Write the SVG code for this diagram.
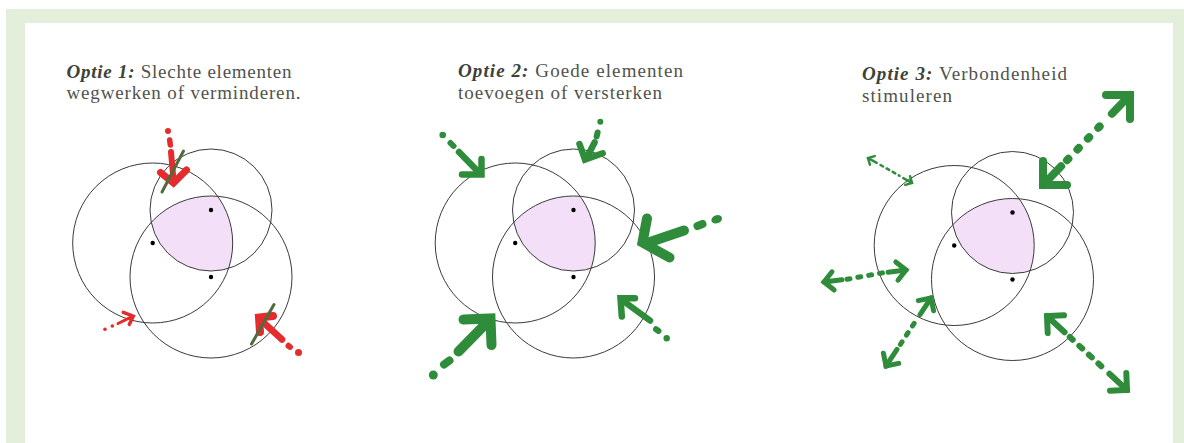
<svg xmlns="http://www.w3.org/2000/svg" width="1184" height="443" viewBox="0 0 1184 443">
<style>
.frame{fill:#e3efdb}
.bg{fill:#ffffff}
.c{fill:none;stroke:#3a3a3a;stroke-width:1}
.core{fill:#f3e0f8}
.dot{fill:#000000}
.t{font-family:"Liberation Serif",serif;font-size:19px;fill:#50534d}
.b{font-weight:bold;font-style:italic;fill:#3c4238}
.ar{stroke:#e52b2b;fill:none;stroke-linecap:round;stroke-linejoin:miter}
.ag{stroke:#2f8c3b;fill:none;stroke-linecap:round;stroke-linejoin:miter}
.fr{fill:#e52b2b}
.fg{fill:#2f8c3b}
.strike{stroke:#4e6c3e;stroke-width:3;stroke-linecap:round}
</style>
<defs>
<clipPath id="clipL"><circle cx="152.7" cy="243" r="80"/></clipPath>
<clipPath id="clipB"><circle cx="211" cy="277" r="81"/></clipPath>
</defs>
<rect class="frame" x="6" y="9" width="1178" height="434"/>
<rect class="bg" x="25" y="23" width="1148" height="420"/>

<g id="panel1">
<text class="t" x="66.5" y="77.5" textLength="225" lengthAdjust="spacing"><tspan class="b">Optie 1:</tspan> Slechte elementen</text>
<text class="t" x="66.5" y="99" textLength="234" lengthAdjust="spacing">wegwerken of verminderen.</text>
<g transform="translate(0,0)">
<g clip-path="url(#clipL)"><g clip-path="url(#clipB)"><circle class="core" cx="211" cy="210" r="61"/></g></g>
<circle class="c" cx="152.7" cy="243" r="80"/>
<circle class="c" cx="211" cy="210" r="61"/>
<circle class="c" cx="211" cy="277" r="81"/>
<circle class="dot" cx="211" cy="210" r="2.2"/>
<circle class="dot" cx="152.7" cy="243" r="2.2"/>
<circle class="dot" cx="211" cy="277" r="2.2"/>
</g>
</g>

<g id="panel2">
<text class="t" x="458" y="77" textLength="225" lengthAdjust="spacing"><tspan class="b">Optie 2:</tspan> Goede elementen</text>
<text class="t" x="458" y="98.5" textLength="204" lengthAdjust="spacing">toevoegen of versterken</text>
<g transform="translate(362.5,0)">
<g clip-path="url(#clipL)"><g clip-path="url(#clipB)"><circle class="core" cx="211" cy="210" r="61"/></g></g>
<circle class="c" cx="152.7" cy="243" r="80"/>
<circle class="c" cx="211" cy="210" r="61"/>
<circle class="c" cx="211" cy="277" r="81"/>
<circle class="dot" cx="211" cy="210" r="2.2"/>
<circle class="dot" cx="152.7" cy="243" r="2.2"/>
<circle class="dot" cx="211" cy="277" r="2.2"/>
</g>
</g>

<g id="panel3">
<text class="t" x="862" y="80" textLength="205" lengthAdjust="spacing"><tspan class="b">Optie 3:</tspan> Verbondenheid</text>
<text class="t" x="862" y="101.5" textLength="90" lengthAdjust="spacing">stimuleren</text>
<g transform="translate(801.5,2.5)">
<g clip-path="url(#clipL)"><g clip-path="url(#clipB)"><circle class="core" cx="211" cy="210" r="61"/></g></g>
<circle class="c" cx="152.7" cy="243" r="80"/>
<circle class="c" cx="211" cy="210" r="61"/>
<circle class="c" cx="211" cy="277" r="81"/>
<circle class="dot" cx="211" cy="210" r="2.2"/>
<circle class="dot" cx="152.7" cy="243" r="2.2"/>
<circle class="dot" cx="211" cy="277" r="2.2"/>
</g>
</g>

<g id="connectors">
<g id="arrows-panel1">
<circle class="fr" cx="168" cy="131" r="3"/>
<line class="ar" x1="169.7" y1="140" x2="170.3" y2="145" stroke-width="5.5"/>
<line class="ar" x1="171" y1="152" x2="173.5" y2="180" stroke-width="6"/>
<polyline class="ar" points="160.5,172.5 173.5,183 186.5,170" stroke-width="7"/>
<line class="strike" x1="183.5" y1="151" x2="162" y2="192"/>

<circle class="fr" cx="105" cy="329.3" r="1.8"/>
<circle class="fr" cx="112.3" cy="326" r="1.8"/>
<line class="ar" x1="118" y1="323.5" x2="131.5" y2="316.8" stroke-width="3"/>
<polyline class="ar" points="123.3,312.3 133.3,316.2 129.3,324.5" stroke-width="3.5"/>

<circle class="fr" cx="298.5" cy="352.5" r="3.5"/>
<line class="ar" x1="288.5" y1="345.8" x2="290" y2="347" stroke-width="6"/>
<line class="ar" x1="282" y1="339.5" x2="263" y2="322" stroke-width="6.5"/>
<polyline class="ar" points="273,316 259,317.5 260,332" stroke-width="8"/>
<line class="strike" x1="274" y1="304.5" x2="251.5" y2="344"/>
</g>

<g id="arrows-panel2">
<circle class="fg" cx="442.7" cy="135" r="3.3"/>
<line class="ag" x1="450.5" y1="143" x2="453.5" y2="146" stroke-width="6"/>
<line class="ag" x1="459" y1="152" x2="478" y2="171.5" stroke-width="6.5"/>
<polyline class="ag" points="481.5,159 481.5,174.5 462,174.5" stroke-width="6.5"/>

<circle class="fg" cx="600.3" cy="121.7" r="3"/>
<line class="ag" x1="597.6" y1="132.5" x2="596.6" y2="136.5" stroke-width="6"/>
<line class="ag" x1="594.6" y1="142.5" x2="586.5" y2="158" stroke-width="6.5"/>
<polyline class="ag" points="579.5,144 585,159.5 602.7,153.3" stroke-width="6.5"/>

<ellipse class="fg" cx="716.7" cy="219.3" rx="5.5" ry="4" transform="rotate(-20 716.7 219.3)"/>
<line class="ag" x1="697.5" y1="226" x2="702.5" y2="224" stroke-width="8"/>
<line class="ag" x1="684" y1="230.5" x2="650" y2="242" stroke-width="10"/>
<polyline class="ag" points="647,218.5 642.5,242.5 669.5,257.5" stroke-width="10"/>

<circle class="fg" cx="433.3" cy="375" r="4.5"/>
<line class="ag" x1="444" y1="364.5" x2="449.5" y2="360.5" stroke-width="8"/>
<line class="ag" x1="458.5" y1="351.5" x2="487.5" y2="322" stroke-width="10"/>
<polyline class="ag" points="463.5,319.5 490.5,318.5 491.5,345" stroke-width="10"/>

<circle class="fg" cx="666.7" cy="338.3" r="3.2"/>
<line class="ag" x1="656" y1="329.2" x2="658.5" y2="331" stroke-width="6"/>
<line class="ag" x1="650" y1="320.5" x2="624" y2="301.5" stroke-width="6.5"/>
<polyline class="ag" points="635,298.3 620.5,298.3 621.8,316.5" stroke-width="6.5"/>
</g>

<g id="arrows-panel3">
<line class="ag" x1="868" y1="158" x2="876.7" y2="162.9" stroke-width="2.5"/>
<line class="ag" x1="880.5" y1="165" x2="899.5" y2="175.8" stroke-width="2.5" stroke-dasharray="3 4"/>
<line class="ag" x1="903.3" y1="178.1" x2="912" y2="183" stroke-width="2.5"/>
<polyline class="ag" points="869.9,164.7 868,158 874.7,156.1" stroke-width="2.5"/>
<polyline class="ag" points="910.1,176.3 912,183 905.3,184.9" stroke-width="2.5"/>

<line class="ag" x1="1043" y1="185" x2="1061.1" y2="166.3" stroke-width="8"/>
<line class="ag" x1="1067" y1="160.2" x2="1106" y2="119.8" stroke-width="8" stroke-dasharray="2 13"/>
<line class="ag" x1="1111.9" y1="113.7" x2="1130" y2="95" stroke-width="8"/>
<polyline class="ag" points="1067,185 1043,185 1043,161" stroke-width="8"/>
<polyline class="ag" points="1106,95 1130,95 1130,119" stroke-width="8"/>

<line class="ag" x1="824" y1="282" x2="841.9" y2="279.8" stroke-width="5"/>
<line class="ag" x1="847" y1="279.2" x2="883" y2="272.8" stroke-width="5" stroke-dasharray="3 8"/>
<line class="ag" x1="888.1" y1="272.2" x2="906" y2="270" stroke-width="5"/>
<polyline class="ag" points="834.2,290 824,282 832,271.8" stroke-width="5"/>
<polyline class="ag" points="895.8,262 906,270 898,280.2" stroke-width="5"/>

<line class="ag" x1="886" y1="366" x2="897" y2="349.3" stroke-width="5"/>
<line class="ag" x1="900.4" y1="344.3" x2="916.6" y2="319.7" stroke-width="5" stroke-dasharray="3 8"/>
<line class="ag" x1="920" y1="314.7" x2="931" y2="298" stroke-width="5"/>
<polyline class="ag" points="898.7,363.4 886,366 883.4,353.3" stroke-width="5"/>
<polyline class="ag" points="918.3,300.6 931,298 933.6,310.7" stroke-width="5"/>

<line class="ag" x1="1047" y1="316" x2="1064.6" y2="332.3" stroke-width="6"/>
<line class="ag" x1="1069.8" y1="337" x2="1104.2" y2="368.9" stroke-width="6" stroke-dasharray="4 9"/>
<line class="ag" x1="1109.4" y1="373.7" x2="1127" y2="390" stroke-width="6"/>
<polyline class="ag" points="1047.7,333 1047,316 1064,315.3" stroke-width="6"/>
<polyline class="ag" points="1126.3,373 1127,390 1110,390.7" stroke-width="6"/>
</g>
</g>
</svg>
